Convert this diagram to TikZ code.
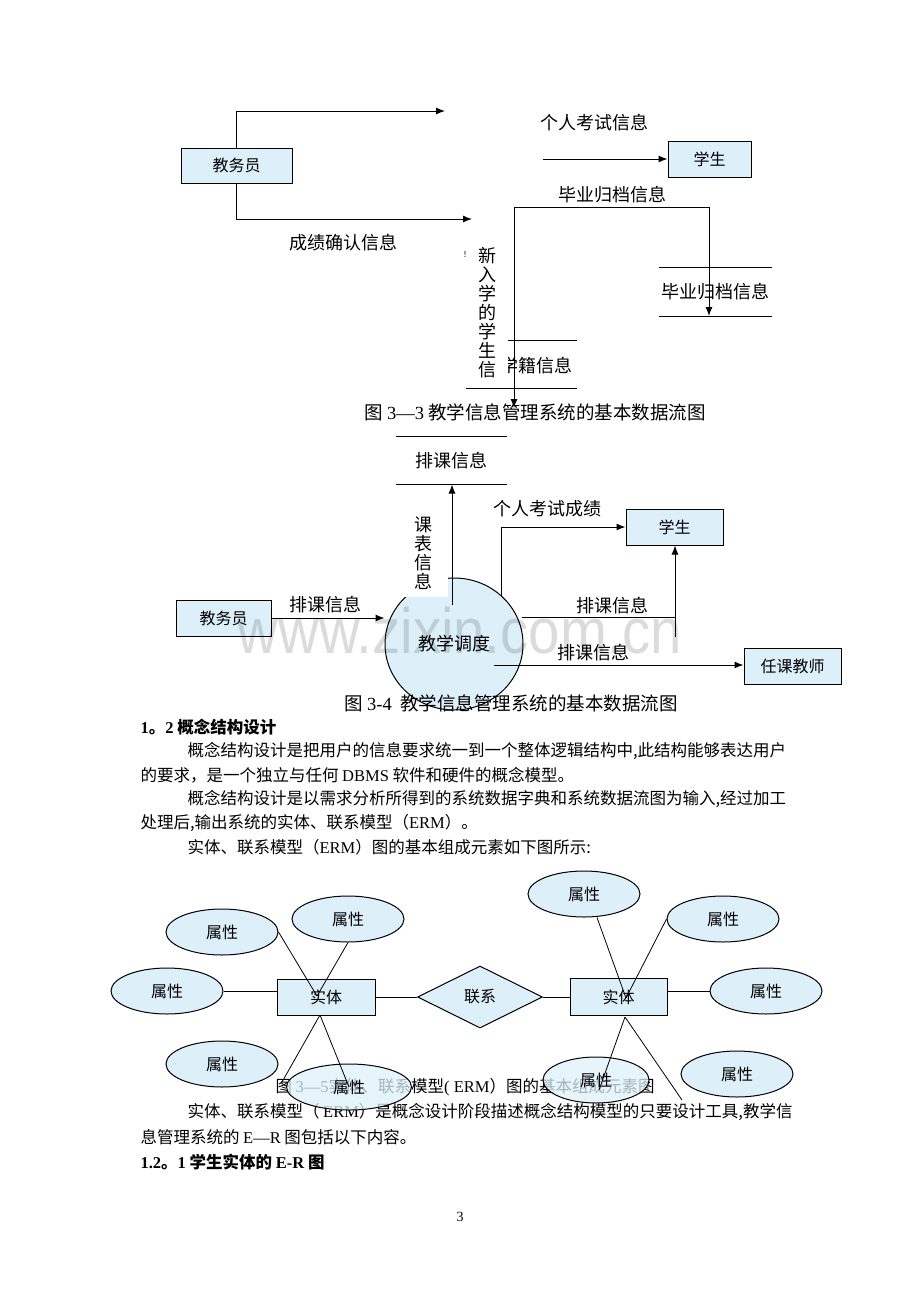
\documentclass[tikz,border=0pt]{standalone}
\usepackage{fontspec}
\usepackage{graphicx}
\setmainfont{Liberation Serif}
\newfontfamily\cjk{Noto Sans CJK SC}
\newfontfamily\wmfont{Liberation Sans}
\usetikzlibrary{shapes.geometric,arrows.meta,positioning}
\definecolor{boxblue}{RGB}{221,240,250}
\newcommand{\fsz}[1]{\fontsize{#1}{#1}\selectfont}

\begin{document}
\begin{tikzpicture}[x=1pt,y=-1pt,line width=1pt,>={Latex[length=9pt,width=7pt]},
	ent/.style={rectangle, draw, fill=boxblue, inner sep=0pt, font=\cjk\fsz{16}},
	attr/.style={ellipse, draw, fill=boxblue, minimum width=112pt, minimum height=46pt, inner sep=0pt, font=\cjk\fsz{16}},
	lbl/.style={inner sep=1pt, font=\cjk\fsz{18}},
	vtext/.style={fill=white, align=center, inner sep=0pt, font=\cjk\fontsize{18}{19}\selectfont},
	bodyline/.style={anchor=west, inner sep=0pt, font=\cjk\fsz{16.5}},
	figcap/.style={inner sep=0pt, font=\cjk\fsz{18.5}}]
	\useasboundingbox (0,0) rectangle (920,1302);

	% figure 3-3
	\node (JWY1) at (236.5,165.5)	[ent, minimum width=111pt, minimum height=35pt]	{教务员};
	\node (XS1) at (709.5,159)	[ent, minimum width=83pt, minimum height=36pt]	{学生};
	\node (XJ) at (536,366)	[lbl]	{学籍信息};
	\draw (466,340) -- (577,340);
	\draw (466,388) -- (577,388);
	\node (BY) at (715,292)	[lbl, minimum width=112pt, minimum height=48pt]	{毕业归档信息};
	\draw (BY.north west) -- (BY.north east);
	\draw (BY.south west) -- (BY.south east);
	\node (frag) at (465,255)	[inner sep=0pt, font=\fsz{9}]	{!};
	\node (XRX) at (487,313)	[vtext, minimum width=42pt, minimum height=139pt]	{新\\入\\学\\的\\学\\生\\信};
	\node (L_GR) at (594,123)	[lbl]	{个人考试信息};
	\node (L_BY) at (612,195)	[lbl]	{毕业归档信息};
	\node (L_CJ) at (343,243)	[lbl]	{成绩确认信息};
	\coordinate (t1) at (445,111);
	\coordinate (t2) at (472,219);
	\coordinate (s3) at (543,159);
	\coordinate (c1) at (514,207);
	\coordinate (t4) at (514,408);
	\coordinate (t5) at (709,316);
	\draw[->] (JWY1.north) |- (t1);
	\draw[->] (JWY1.south) |- (t2);
	\draw[->] (s3) -- (XS1.west);
	\draw[->] (c1) -| (t5);
	\node (CAP1) at (535,412)	[figcap]	{图 {\rmfamily 3—3} 教学信息管理系统的基本数据流图};
	\draw[->] (c1) -- (t4);

	% figure 3-4
	\node (KB) at (451,460.5)	[lbl, minimum width=110pt, minimum height=47pt]	{排课信息};
	\draw (KB.north west) -- (KB.north east);
	\draw (KB.south west) -- (KB.south east);
	\node (DD) at (454,644)	[ellipse, draw, fill=boxblue, minimum width=138pt, minimum height=132pt, inner sep=0pt, font=\cjk\fsz{18}]	{教学调度};
	\node (KBX) at (423,553)	[vtext, minimum width=50pt, minimum height=88pt]	{课\\表\\信\\息};
	\node (JWY2) at (223.5,618)	[ent, minimum width=95pt, minimum height=36pt]	{教务员};
	\node (XS2) at (674.5,527)	[ent, minimum width=97pt, minimum height=36pt]	{学生};
	\node (RKJS) at (792.5,666)	[ent, minimum width=97pt, minimum height=36pt]	{任课教师};
	\coordinate (k0) at (452,605);
	\coordinate (p1) at (501,596);
	\coordinate (p2) at (522,617);
	\coordinate (p3) at (675,637);
	\coordinate (p4) at (494,665);
	\draw[->] (k0) -- (k0 |- KB.south);
	\draw[->] (JWY2.east) -- (JWY2.east -| DD.west);
	\draw[->] (p1) |- (XS2.west);
	\draw (p2) -- (p2 -| p3);
	\draw[->] (p3) -- (p3 |- XS2.south);
	\draw[->] (p4) -- (p4 -| RKJS.west);
	\node (L_KB1) at (325,605)	[lbl]	{排课信息};
	\node (L_GRCJ) at (547,509)	[lbl]	{个人考试成绩};
	\node (L_KB2) at (612,606)	[lbl]	{排课信息};
	\node (L_KB3) at (593,653)	[lbl]	{排课信息};
	\node (CAP2) at (511,703)	[figcap]	{图 {\rmfamily 3-4}\ \ 教学信息管理系统的基本数据流图};
	\node (WM) at (460,653)	[anchor=base, inner sep=0pt, text=black, text opacity=0.14, font=\wmfont\fsz{64}]	{\scalebox{0.88}[1]{www.zixin.com.cn}};

	% text
	\node (H1) at (140,727)	[bodyline, font=\cjk\bfseries\fsz{16.5}]	{{\rmfamily 1}。{\rmfamily 2} 概念结构设计};
	\node (P1) at (187,751)	[bodyline]	{概念结构设计是把用户的信息要求统一到一个整体逻辑结构中,此结构能够表达用户};
	\node (P2) at (140,775)	[bodyline]	{的要求，是一个独立与任何 {\rmfamily DBMS} 软件和硬件的概念模型。};
	\node (P3) at (187,799)	[bodyline]	{概念结构设计是以需求分析所得到的系统数据字典和系统数据流图为输入,经过加工};
	\node (P4) at (140,823)	[bodyline]	{处理后,输出系统的实体、联系模型（{\rmfamily ERM}）。};
	\node (P5) at (187,847)	[bodyline]	{实体、联系模型（{\rmfamily ERM}）图的基本组成元素如下图所示:};

	% figure 3-5
	\node (CAP3) at (275,1087)	[bodyline]	{图 {\rmfamily 3—5}实体、联系模型{\rmfamily ( ERM}）图的基本组成元素图};
	\node (P6) at (187,1112)	[bodyline]	{实体、联系模型（ {\rmfamily ERM}）是概念设计阶段描述概念结构模型的只要设计工具,教学信};
	\node (P7) at (140,1137)	[bodyline]	{息管理系统的 {\rmfamily E—R} 图包括以下内容。};
	\node (H2) at (140,1162)	[bodyline, font=\cjk\bfseries\fsz{16.5}]	{{\rmfamily 1.2}。{\rmfamily 1} 学生实体的 {\rmfamily E-R} 图};
	\node (PG) at (460,1217)	[inner sep=0pt, font=\fsz{14}]	{3};

	\node (ST1) at (326,997)	[ent, minimum width=98pt, minimum height=36pt]	{实体};
	\node (ST2) at (618.5,997)	[ent, minimum width=97pt, minimum height=37pt]	{实体};
	\node (LX) at (480,997)	[diamond, draw, fill=boxblue, aspect=2, minimum width=125pt, minimum height=62pt, inner sep=0pt, font=\cjk\fsz{16}]	{联系};
	\node (A1) at (222,932)	[attr]	{属性};
	\node (A2) at (348,919)	[attr]	{属性};
	\node (A3) at (167,991)	[attr]	{属性};
	\node (A4) at (222,1064)	[attr]	{属性};
	\node (A5) at (349,1087)	[attr, minimum width=125pt, fill opacity=0.75, text opacity=1]	{属性};
	\node (B1) at (584,894)	[attr]	{属性};
	\node (B2) at (723,919)	[attr]	{属性};
	\node (B3) at (766,991)	[attr]	{属性};
	\node (B4) at (737,1074)	[attr]	{属性};
	\node (B5) at (596,1080)	[attr, minimum width=106pt, fill opacity=0.75, text opacity=1]	{属性};
	\coordinate (ST1x) at (317,996);
	\coordinate (ST1b) at (320,1015);
	\coordinate (e1) at (282,1082);
	\coordinate (ST2x) at (626,998);
	\coordinate (ST2b) at (625,1017);
	\coordinate (e2) at (682,1100);
	\coordinate (e3) at (599,1090);
	\draw[line width=0.8pt] (A1.east) -- (ST1x);
	\draw[line width=0.8pt] (A2.south) -- (ST1x);
	\draw[line width=0.8pt] (A3.east) -- (A3.east -| ST1.west);
	\draw[line width=0.8pt] (ST1b) -- (e1);
	\draw[line width=0.8pt] (ST1b) -- (A5.center);
	\draw[line width=0.8pt] (ST1.east) -- (LX.west);
	\draw[line width=0.8pt] (LX.east) -- (ST2.west);
	\draw[line width=0.8pt] ([xshift=13pt]B1.south) -- (ST2x);
	\draw[line width=0.8pt] (B2.west) -- (ST2x);
	\draw[line width=0.8pt] (B3.west) -- (B3.west -| ST2.east);
	\draw[line width=0.8pt] (ST2b) -- (e2);
	\draw[line width=0.8pt] (ST2b) -- (e3);
\end{tikzpicture}
\end{document}
